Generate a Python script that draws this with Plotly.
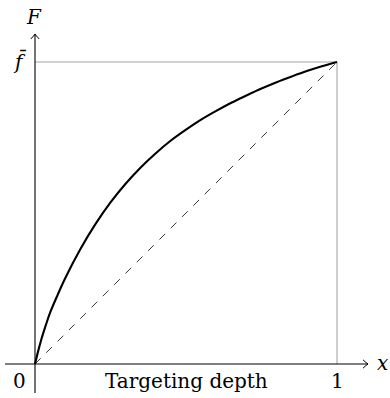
import plotly.graph_objects as go

# Targeting depth (x) and cumulative value F, with F(1) = f-bar
depth = [0, 0.01, 0.02, 0.035, 0.05, 0.075, 0.10, 0.15, 0.20, 0.25, 0.30, 0.35, 0.40, 0.45,
         0.50, 0.55, 0.60, 0.65, 0.70, 0.75, 0.80, 0.85, 0.90, 0.95, 1.0]
F_vals = [0, 0.041, 0.078, 0.126, 0.170, 0.229, 0.284, 0.380, 0.463, 0.535, 0.597, 0.651,
          0.698, 0.740, 0.776, 0.809, 0.838, 0.865, 0.889, 0.912, 0.933, 0.952, 0.970,
          0.986, 1.0]
diag_x = [0, 1]
diag_y = [0, 1]
fbar = 1.0

W, H = 390, 398
# pixel placement of the origin and unit length
ox, oy, unit = 35, 364, 302
x_rng = [-ox / unit, (W - ox) / unit]
y_rng = [-(H - oy) / unit, oy / unit]
p = 1.0 / unit  # one pixel in data units

fig = go.Figure()

# guide lines at x = 1 and F = f-bar
fig.add_trace(go.Scatter(x=[0, 1, 1], y=[fbar, fbar, 0], mode="lines",
                         line=dict(color="#a6a6a6", width=1.1), hoverinfo="skip"))
# 45-degree reference line
fig.add_trace(go.Scatter(x=diag_x, y=diag_y, mode="lines",
                         line=dict(color="#222222", width=0.9, dash="8px,8px"), hoverinfo="skip"))
# F curve
fig.add_trace(go.Scatter(x=depth, y=F_vals, mode="lines",
                         line=dict(color="black", width=2.1, shape="spline", smoothing=1.0),
                         hoverinfo="skip"))

shapes = []
# axes
x0a, x1a = -30 * p, 333 * p
y0a, y1a = -29 * p, 330 * p
shapes.append(dict(type="line", xref="x", yref="y", x0=x0a, x1=x1a, y0=0, y1=0,
                   line=dict(color="black", width=1.1)))
shapes.append(dict(type="line", xref="x", yref="y", x0=0, x1=0, y0=y0a, y1=y1a,
                   line=dict(color="black", width=1.1)))
# arrow heads
a, b = 5 * p, 4.2 * p
shapes.append(dict(type="path", xref="x", yref="y",
                   path=f"M {x1a - a},{b} Q {x1a - a * 0.3},{b * 0.2} {x1a},0 "
                        f"Q {x1a - a * 0.3},{-b * 0.2} {x1a - a},{-b}",
                   line=dict(color="black", width=1.0)))
shapes.append(dict(type="path", xref="x", yref="y",
                   path=f"M {-b},{y1a - a} Q {-b * 0.2},{y1a - a * 0.3} 0,{y1a} "
                        f"Q {b * 0.2},{y1a - a * 0.3} {b},{y1a - a}",
                   line=dict(color="black", width=1.0)))

font = dict(family="DejaVu Serif, Liberation Serif, serif", size=20, color="black")
ann = [
    dict(x=-16 * p, y=-17 * p, text="0"),
    dict(x=1, y=-17 * p, text="1"),
    dict(x=0.5, y=-17 * p, text="Targeting depth"),
    dict(x=x1a + 14 * p, y=1 * p, text="<i>x</i>"),
    dict(x=-1 * p, y=oy * p - 17 * p, text="<i>F</i>"),
    dict(x=-16 * p, y=fbar + 1 * p, text="<i>f\u0304</i>"),
]
for d in ann:
    d.update(xref="x", yref="y", showarrow=False, font=font,
             xanchor="center", yanchor="middle")

fig.update_layout(
    width=W, height=H, margin=dict(l=0, r=0, t=0, b=0),
    paper_bgcolor="white", plot_bgcolor="white", showlegend=False,
    xaxis=dict(range=x_rng, visible=False, fixedrange=True),
    yaxis=dict(range=y_rng, visible=False, fixedrange=True),
    shapes=shapes, annotations=ann,
)

fig.write_html("out.html")
